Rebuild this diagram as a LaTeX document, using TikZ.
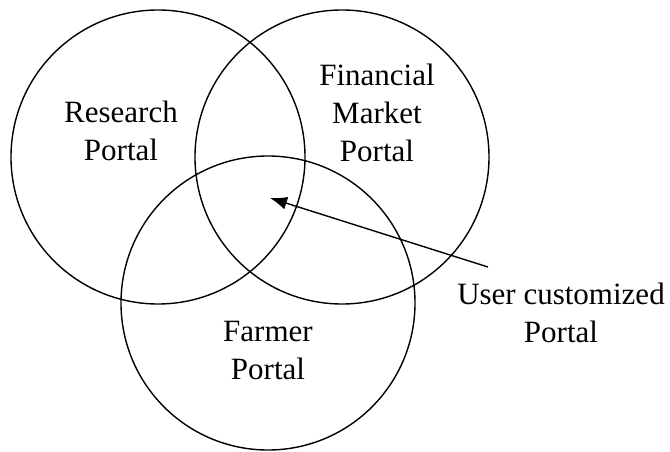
\documentclass[tikz,border=0pt]{standalone}
\usepackage{fontspec}
\setmainfont{Liberation Serif}
\usetikzlibrary{arrows.meta}
\begin{document}
\begin{tikzpicture}[
    x=1pt, y=-1pt,
    portal/.style={draw, circle, line width=1.4pt, minimum size=294pt, inner sep=0pt},
    label/.style={draw=none, align=center, inner sep=0pt, font=\fontsize{31}{38}\selectfont},
    pointer/.style={line width=1.4pt, -{Latex[length=17pt, width=13pt]}}
]
\useasboundingbox (0,0) rectangle (670,452);
% the three portals
\node[portal] (research)  at (158,157) {};
\node[portal] (financial) at (342,157) {};
\node[portal] (farmer)    at (268,303) {};
% their names
\node[label] (researchtext)  at (121,131) {Research\\Portal};
\node[label] (financialtext) at (377,113) {Financial\\Market\\Portal};
\node[label] (farmertext)    at (268,350) {Farmer\\Portal};
\node[label] (usertext)      at (561,313) {User customized\\Portal};
% arrow into the common part
\coordinate (tail) at (488,267);
\coordinate (tip)  at (270,198);
\draw[pointer] (tail) -- (tip);
\end{tikzpicture}
\end{document}
